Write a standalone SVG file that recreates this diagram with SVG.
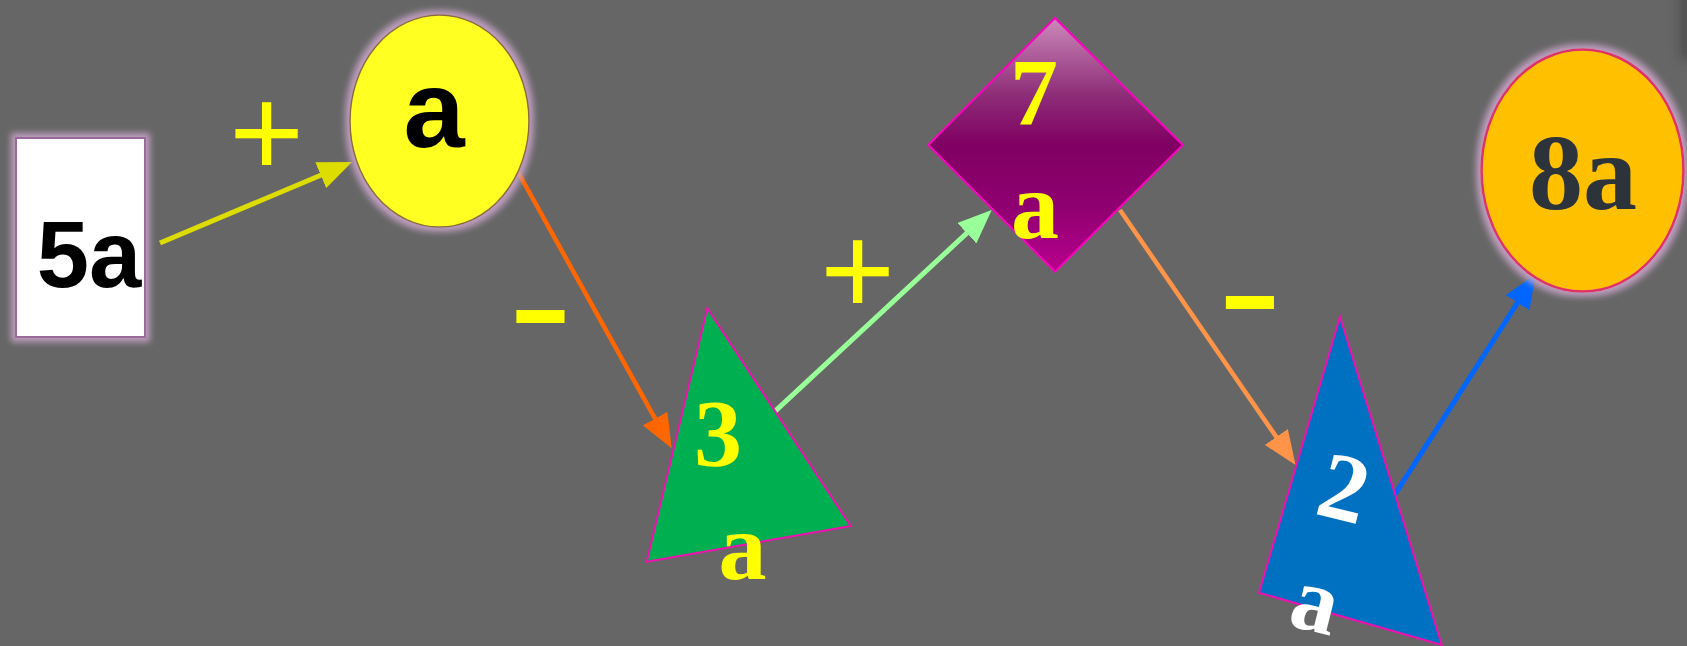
<svg xmlns="http://www.w3.org/2000/svg" width="1687" height="646" viewBox="0 0 1687 646">
  <style>
    .sans { font-family: "Liberation Sans", Arial, sans-serif; font-weight: bold; }
    .serif { font-family: "Liberation Serif", "Times New Roman", serif; font-weight: bold; }
    .lbl { fill: #ffff00; text-anchor: middle; }
    .mid { text-anchor: middle; }
    .plus { font-family: "Liberation Sans", Arial, sans-serif; font-size: 128px; }
    .minus { font-family: "Liberation Sans", Arial, sans-serif; font-weight: bold; font-size: 97px; }
    .edge { fill: none; }
    .tri { stroke: #f010b0; stroke-width: 2; stroke-linejoin: miter; }
  </style>
  <defs>
    <filter id="glow" x="-20%" y="-20%" width="140%" height="140%">
      <feMorphology in="SourceAlpha" operator="dilate" radius="4" result="d"/>
      <feGaussianBlur in="d" stdDeviation="3" result="b"/>
      <feFlood flood-color="#c8a4c8" flood-opacity="0.9"/>
      <feComposite in2="b" operator="in" result="g"/>
      <feMerge><feMergeNode in="g"/><feMergeNode in="SourceGraphic"/></feMerge>
    </filter>
    <filter id="soft" x="-100%" y="-100%" width="300%" height="300%">
      <feGaussianBlur stdDeviation="6"/>
    </filter>
    <linearGradient id="diamondGrad" x1="0" y1="0" x2="0" y2="1">
      <stop offset="0" stop-color="#cc8abb"/>
      <stop offset="0.3" stop-color="#8e2e78"/>
      <stop offset="0.5" stop-color="#800062"/>
      <stop offset="0.75" stop-color="#900070"/>
      <stop offset="1" stop-color="#b8008e"/>
    </linearGradient>
    <marker id="mYellow" viewBox="0 0 34 28" markerWidth="34" markerHeight="28" refX="18" refY="14" orient="auto" markerUnits="userSpaceOnUse">
      <path d="M0,0 L34,14 L0,28 z" fill="#dddd00"/>
    </marker>
    <marker id="mOrange" viewBox="0 0 34 28" markerWidth="34" markerHeight="28" refX="18" refY="14" orient="auto" markerUnits="userSpaceOnUse">
      <path d="M0,0 L34,14 L0,28 z" fill="#ff6600"/>
    </marker>
    <marker id="mGreen" viewBox="0 0 34 28" markerWidth="34" markerHeight="28" refX="18" refY="14" orient="auto" markerUnits="userSpaceOnUse">
      <path d="M0,0 L34,14 L0,28 z" fill="#99ff99"/>
    </marker>
    <marker id="mLtOrange" viewBox="0 0 34 28" markerWidth="34" markerHeight="28" refX="18" refY="14" orient="auto" markerUnits="userSpaceOnUse">
      <path d="M0,0 L34,14 L0,28 z" fill="#ff9448"/>
    </marker>
    <marker id="mBlue" viewBox="0 0 34 28" markerWidth="34" markerHeight="28" refX="18" refY="14" orient="auto" markerUnits="userSpaceOnUse">
      <path d="M0,0 L34,14 L0,28 z" fill="#0066ff"/>
    </marker>
  </defs>

  <rect x="0" y="0" width="1687" height="646" fill="#666666"/>
  <rect x="1680" y="-20" width="20" height="80" fill="#505050" filter="url(#soft)"/>

  <g id="connectors">
    <line class="edge" x1="160" y1="243" x2="337.3" y2="168.2" stroke="#dddd00" stroke-width="5" marker-end="url(#mYellow)"/>
    <line class="edge" x1="518" y1="172" x2="663.9" y2="434.3" stroke="#ff6600" stroke-width="4.5" marker-end="url(#mOrange)"/>
    <line class="edge" x1="769.3" y1="416.7" x2="980.0" y2="220.9" stroke="#99ff99" stroke-width="5" marker-end="url(#mGreen)"/>
    <line class="edge" x1="1120" y1="210" x2="1286.5" y2="451.8" stroke="#ff9448" stroke-width="4.5" marker-end="url(#mLtOrange)"/>
    <line class="edge" x1="1393" y1="497.3" x2="1527.2" y2="287.5" stroke="#0066ff" stroke-width="5" marker-end="url(#mBlue)"/>
    <text class="lbl plus" x="266.5" y="176">+</text>
    <text class="lbl minus" x="540.5" y="344" transform="translate(540.5 320) scale(1 1.35) translate(-540.5 -320)">–</text>
    <text class="lbl plus" x="857.5" y="314">+</text>
    <text class="lbl minus" x="1250" y="329.5" transform="translate(1250 305.5) scale(1 1.35) translate(-1250 -305.5)">–</text>
  </g>

  <g id="node-5a">
    <rect x="16" y="138" width="129" height="199" fill="#ffffff" stroke="#9a6a9a" stroke-width="2" filter="url(#glow)"/>
    <text class="sans mid" x="89" y="287" font-size="94" fill="#000000">5a</text>
  </g>

  <g id="node-a">
    <ellipse cx="439.5" cy="121" rx="89.5" ry="106" fill="#ffff22" stroke="#8b6b3b" stroke-width="1.5" filter="url(#glow)"/>
    <text class="sans mid" x="434" y="147" font-size="110" fill="#000000">a</text>
  </g>

  <g id="node-3a">
    <polygon class="tri" points="707.3,308.3 850.7,526 646.7,561.7" fill="#00b050"/>
    <text class="serif lbl" x="718" y="466" font-size="96">3</text>
    <text class="serif lbl" x="742.5" y="579" font-size="96">a</text>
  </g>

  <g id="node-7a">
    <polygon points="1055,18 1182.7,145 1055,271.7 928.3,145" fill="url(#diamondGrad)" stroke="#ff00c0" stroke-width="2"/>
    <text class="serif lbl" x="1034" y="125" font-size="96">7</text>
    <text class="serif lbl" x="1035" y="238" font-size="96">a</text>
  </g>

  <g id="node-2a">
    <polygon class="tri" points="1340,316.7 1441.8,645 1259,592.7" fill="#0070c0"/>
    <text class="serif mid" x="1344" y="520" font-size="96" fill="#ffffff" transform="rotate(14 1344 488)">2</text>
    <text class="serif mid" x="1314" y="631" font-size="92" fill="#ffffff" transform="rotate(14 1314 609)">a</text>
  </g>

  <g id="node-8a">
    <ellipse cx="1582.5" cy="170.5" rx="101" ry="121" fill="#ffc000" stroke="#e0306a" stroke-width="2.5" filter="url(#glow)"/>
    <text class="serif mid" x="1583" y="209" font-size="108" fill="#2d333b">8a</text>
  </g>
</svg>
